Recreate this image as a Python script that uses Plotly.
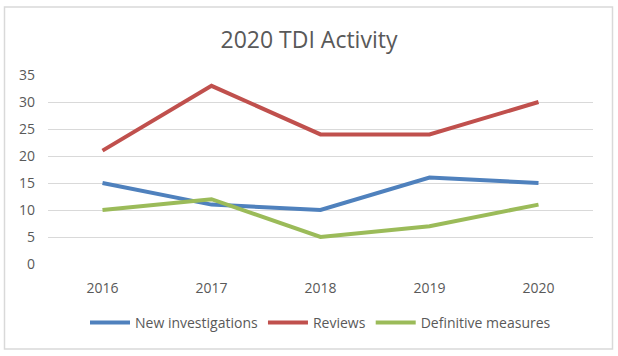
import plotly.graph_objects as go

years = ["2016", "2017", "2018", "2019", "2020"]
new_investigations = [15, 11, 10, 16, 15]
reviews = [21, 33, 24, 24, 30]
definitive_measures = [10, 12, 5, 7, 11]

fig = go.Figure()
fig.add_trace(go.Scatter(x=years, y=new_investigations, mode="lines", name="New investigations",
                         line=dict(color="#4F81BD", width=4)))
fig.add_trace(go.Scatter(x=years, y=reviews, mode="lines", name="Reviews",
                         line=dict(color="#C0504D", width=4)))
fig.add_trace(go.Scatter(x=years, y=definitive_measures, mode="lines", name="Definitive measures",
                         line=dict(color="#9BBB59", width=4)))

L, R, T, B = 48, 25, 75, 92
W, H = 618, 356
pw = W - L - R
ph = H - T - B

def px_to_paper_x(px):
    return (px - L) / pw

def px_to_paper_y(py):
    return (H - B - py) / ph

fig.update_layout(
    width=W, height=H,
    margin=dict(l=L, r=R, t=T, b=B, autoexpand=False),
    paper_bgcolor="white", plot_bgcolor="white",
    font=dict(family="Open Sans, Liberation Sans, sans-serif", color="#595959", size=14),
    title=dict(text="2020 TDI Activity", x=0.5, xanchor="center", y=1 - 40 / H, yanchor="middle",
               font=dict(size=23, color="#595959", family="Open Sans, sans-serif")),
    showlegend=True,
    legend=dict(orientation="h", x=0.5, xanchor="center", y=px_to_paper_y(323), yanchor="middle",
                font=dict(size=14, color="#595959"), itemwidth=40, tracegroupgap=0,
                bgcolor="rgba(0,0,0,0)"),
    xaxis=dict(type="category", range=[-0.5, 4.5], showgrid=False, zeroline=False,
               showline=False, ticks="", automargin=False, ticklabelstandoff=14,
               tickfont=dict(size=14, color="#595959")),
    yaxis=dict(range=[0, 35], dtick=5, showgrid=True, gridcolor="#D9D9D9", gridwidth=1,
               zeroline=False, showline=False, ticks="", automargin=False, ticklabelstandoff=12,
               tickfont=dict(size=14, color="#595959")),
    shapes=[dict(type="rect", xref="paper", yref="paper",
                 x0=px_to_paper_x(4.5), x1=px_to_paper_x(612.5),
                 y0=px_to_paper_y(349), y1=px_to_paper_y(7),
                 line=dict(color="#D9D9D9", width=1.5), fillcolor="rgba(0,0,0,0)", layer="below")],
)

fig.write_html("out.html", config={"displayModeBar": False},
               post_script="document.body.style.margin='0';document.body.style.overflow='hidden';")
